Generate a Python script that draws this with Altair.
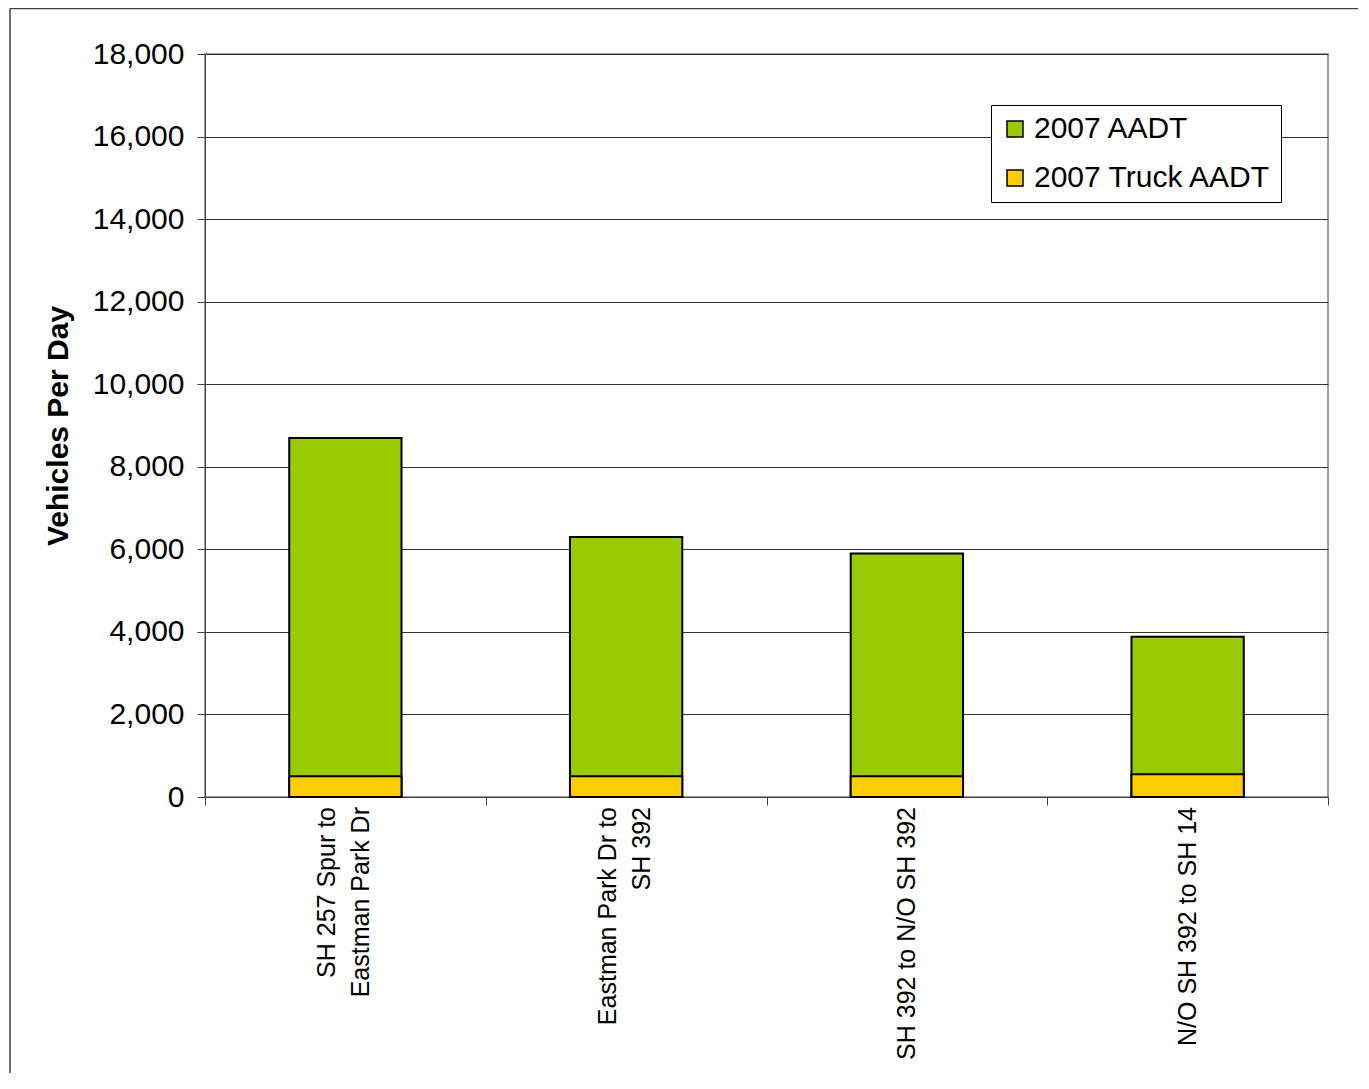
import altair as alt
import pandas as pd

# ---- data ----
segments = [
    "SH 257 Spur to|Eastman Park Dr",
    "Eastman Park Dr to|SH 392",
    "SH 392 to N/O SH 392",
    "N/O SH 392 to SH 14",
]
aadt_2007 = [8700, 6300, 5900, 3880]
truck_2007 = [500, 500, 500, 550]
series_names = ["2007 AADT", "2007 Truck AADT"]
series_colors = ["#99CC00", "#FFCC00"]
y_tick_values = [0, 2000, 4000, 6000, 8000, 10000, 12000, 14000, 16000, 18000]

rows = []
for s, v in zip(segments, aadt_2007):
    rows.append({"segment": s, "series": series_names[0], "value": v})
for s, v in zip(segments, truck_2007):
    rows.append({"segment": s, "series": series_names[1], "value": v})
df = pd.DataFrame(rows)
label_df = pd.DataFrame({"segment": segments})

FONT = "Liberation Sans"
W, H = 1123, 743
PAD = {"left": 197, "top": 46, "right": 30, "bottom": 276}
LINE_H = 34
XLAB_FS = 25

x_enc = alt.X(
    "segment:N",
    sort=segments,
    scale=alt.Scale(paddingInner=0, paddingOuter=0),
    axis=alt.Axis(
        title=None,
        labels=False,
        tickBand="extent",
        tickSize=8,
        tickColor="#404040",
        domainColor="#404040",
        grid=False,
    ),
)

bars = alt.Chart(df).mark_bar(
    stroke="black", strokeWidth=2, width=alt.RelativeBandSize(0.4)
).encode(
    x=x_enc,
    y=alt.Y(
        "value:Q",
        stack=None,
        scale=alt.Scale(domain=[0, 18000], nice=False),
        axis=alt.Axis(
            values=y_tick_values,
            format=",d",
            title="Vehicles Per Day",
            titleFontSize=30,
            titleFontWeight="bold",
            titleColor="black",
            titlePadding=19,
            labelFontSize=30,
            labelColor="black",
            labelPadding=13,
            labelLimit=0,
            tickSize=8,
            tickColor="#404040",
            domainColor="#404040",
            grid=True,
            gridColor="#333333",
            gridWidth=1,
        ),
    ),
    color=alt.Color(
        "series:N",
        scale=alt.Scale(domain=series_names, range=series_colors),
        legend=alt.Legend(
            title=None,
            orient="none",
            legendX=786,
            legendY=51,
            fillColor="white",
            strokeColor="black",
            padding=9,
            symbolType="square",
            symbolSize=256,
            symbolStrokeColor="black",
            symbolStrokeWidth=1.5,
            labelFontSize=30,
            labelColor="black",
            labelOffset=4,
            labelLimit=0,
            rowPadding=19,
        ),
    ),
)

# category labels (rotated, multi-line blocks centred on their category)
label_base = alt.Chart(label_df).transform_calculate(
    lines="split(datum.segment, '|')",
    nlines="length(split(datum.segment, '|'))",
)
label_multi = label_base.transform_filter("datum.nlines > 1").mark_text(
    angle=270, align="right", baseline="line-bottom", fontSize=XLAB_FS,
    lineHeight=LINE_H, color="black", font=FONT,
).encode(
    x=alt.X("segment:N", sort=segments),
    y=alt.value(H + 10),
    text=alt.Text("lines:N"),
)
label_single = label_base.transform_filter("datum.nlines == 1").mark_text(
    angle=270, align="right", baseline="middle", fontSize=XLAB_FS,
    lineHeight=LINE_H, color="black", font=FONT,
).encode(
    x=alt.X("segment:N", sort=segments),
    y=alt.value(H + 10),
    text=alt.Text("segment:N"),
)

border_df = pd.DataFrame({"b": [0]})
left_border = alt.Chart(border_df).mark_rule(color="#404040", strokeWidth=1.5).encode(
    x=alt.value(-195), y=alt.value(-45.5), y2=alt.value(H + PAD["bottom"])
)
top_border = alt.Chart(border_df).mark_rule(color="#404040", strokeWidth=1.5).encode(
    x=alt.value(-195), x2=alt.value(W + PAD["right"]), y=alt.value(-45.5)
)

chart = alt.layer(bars, label_multi, label_single, left_border, top_border).properties(
    width=W,
    height=H,
    autosize=alt.AutoSizeParams(type="none"),
    padding=PAD,
).configure(
    font=FONT,
).configure_view(
    stroke="#808080", strokeWidth=1.5
)

chart.save("out.html", embed_options={"renderer": "svg", "actions": False})
